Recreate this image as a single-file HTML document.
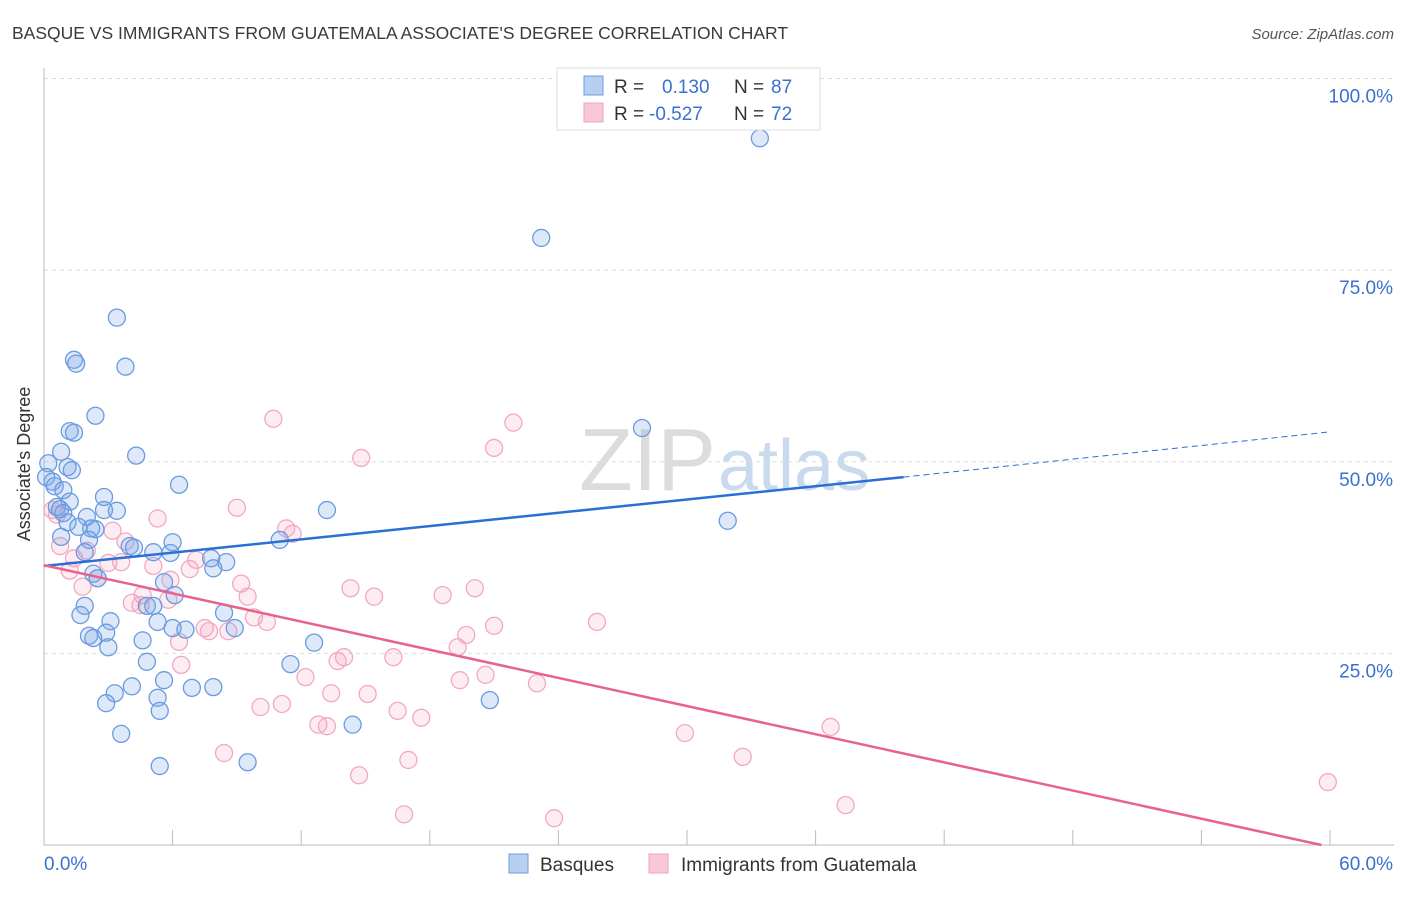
<!DOCTYPE html>
<html><head><meta charset="utf-8"><style>
body{margin:0;background:#fff;font-family:"Liberation Sans",sans-serif;}
svg text{font-family:"Liberation Sans",sans-serif;}
</style></head><body>
<svg id="chart" width="1406" height="892" xmlns="http://www.w3.org/2000/svg">
<text x="12" y="39" font-size="17.5" fill="#3a3a3a">BASQUE VS IMMIGRANTS FROM GUATEMALA ASSOCIATE'S DEGREE CORRELATION CHART</text>
<text x="1394" y="39" font-size="15" fill="#555" font-style="italic" text-anchor="end">Source: ZipAtlas.com</text>
<text x="716" y="490" font-size="88" fill="#dcdcdc" text-anchor="end" font-family="Liberation Serif">ZIP</text>
<text x="718" y="490" font-size="72" fill="#c9d9ee">atlas</text>
<g id="grid"></g><g id="axes"></g><g id="pts"></g><g id="lines"></g>
<g>
<rect x="557" y="68" width="263" height="62" fill="#fff" stroke="#ddd"/>
<rect x="584" y="76" width="19" height="19" fill="#b8d0f0" stroke="#6a9be0"/>
<rect x="584" y="103" width="19" height="19" fill="#f8c8d6" stroke="#f0a0bc"/>
<text x="614" y="93" font-size="19" fill="#333">R = </text><text x="662" y="93" font-size="19" fill="#3a70d0">0.130</text>
<text x="734" y="93" font-size="19" fill="#333">N = </text><text x="771" y="93" font-size="19" fill="#3a70d0">87</text>
<text x="614" y="120" font-size="19" fill="#333">R = </text><text x="649" y="120" font-size="19" fill="#3a70d0">-0.527</text>
<text x="734" y="120" font-size="19" fill="#333">N = </text><text x="771" y="120" font-size="19" fill="#3a70d0">72</text>
</g>
<g>
<rect x="509" y="854" width="19" height="19" fill="#b8d0f0" stroke="#6a9be0"/>
<text x="540" y="871" font-size="19" fill="#333">Basques</text>
<rect x="649" y="854" width="19" height="19" fill="#f8c8d6" stroke="#f0a0bc"/>
<text x="681" y="871" font-size="19" fill="#333">Immigrants from Guatemala</text>
</g>
<text x="22" y="456" font-size="18" fill="#333" transform="rotate(-90 30 456)" text-anchor="middle">Associate's Degree</text>
</svg>
<script>
const yTicks=[25,50,75,100];
const yTickLabels=["25.0%","50.0%","75.0%","100.0%"];
const xTickLabels=["0.0%","60.0%"];
const basqueX=[33.4,23.2,3.4,1.4,1.5,3.8,2.4,27.9,1.2,1.4,0.8,4.3,0.2,1.1,1.3,0.1,0.4,6.3,0.5,0.9,2.8,1.2,0.6,0.75,13.2,2.8,3.4,0.9,2.0,1.1,31.9,1.6,2.4,2.2,0.8,2.1,11.0,6.0,4.0,4.2,1.9,5.1,5.9,7.8,8.5,7.9,2.3,2.5,5.6,6.1,4.8,5.1,1.9,1.7,8.4,5.3,3.1,2.9,6.0,6.6,8.9,2.1,2.3,4.6,3.0,12.6,4.8,11.5,5.6,4.1,6.9,7.9,3.3,5.3,2.9,20.8,5.4,14.4,3.6,5.4,9.5];
const basqueY=[92.2,79.2,68.8,63.3,62.8,62.4,56.0,54.4,54.0,53.8,51.3,50.8,49.8,49.3,48.9,48.0,47.4,47.0,46.8,46.3,45.4,44.8,44.1,43.8,43.7,43.7,43.6,43.3,42.8,42.1,42.3,41.5,41.2,41.3,40.2,39.8,39.8,39.5,39.0,38.8,38.2,38.2,38.1,37.4,36.9,36.1,35.4,34.8,34.3,32.6,31.2,31.2,31.2,30.0,30.3,29.1,29.2,27.7,28.3,28.1,28.3,27.3,27.0,26.7,25.8,26.4,23.9,23.6,21.5,20.7,20.5,20.6,19.8,19.2,18.5,18.9,17.5,15.7,14.5,10.3,10.8];
const guatX=[10.7,21.9,21.0,14.8,9.0,0.6,0.4,11.3,11.6,3.2,5.3,0.75,3.8,2.0,1.4,3.0,3.6,7.1,6.8,5.1,1.2,2.5,5.9,1.8,9.2,20.1,14.3,15.4,18.6,4.6,9.5,4.1,4.5,5.8,9.8,10.4,25.8,7.5,7.7,8.6,21.0,19.7,6.3,19.3,14.0,13.7,16.3,6.4,12.2,20.6,19.4,23.0,13.4,15.1,11.1,10.1,16.5,17.6,12.8,13.2,36.7,29.9,8.4,32.6,17.0,14.7,16.8,23.8,37.4,59.9];
const guatY=[55.6,55.1,51.8,50.5,44.0,43.1,43.7,41.3,40.6,41.0,42.6,39.0,39.6,38.4,37.4,36.8,36.9,37.2,36.0,36.4,35.8,34.8,34.6,33.7,34.1,33.5,33.5,32.4,32.6,32.6,32.4,31.6,31.3,32.0,29.7,29.1,29.1,28.3,27.9,27.9,28.6,27.4,26.5,25.8,24.5,24.0,24.5,23.5,21.9,22.2,21.5,21.1,19.8,19.7,18.4,18.0,17.5,16.6,15.7,15.5,15.4,14.6,12.0,11.5,11.1,9.1,4.0,3.5,5.2,8.2];
const blueTrend=[[0,36.4],[40.1,48.0],[60,53.9]];
const pinkTrend=[[0,36.5],[59.6,0]];
const NS="http://www.w3.org/2000/svg";
const X=v=>44+v*(1330-44)/60;
const Y=v=>845-v*(845-78.5)/100;
function mk(tag,attrs,parent){const e=document.createElementNS(NS,tag);for(const k in attrs)e.setAttribute(k,attrs[k]);document.getElementById(parent).appendChild(e);return e;}
yTicks.forEach((t,i)=>{
 const g=mk('line',{x1:44,x2:1394,y1:Y(t),y2:Y(t),stroke:'#ddd','stroke-dasharray':'4,4'},'grid');
 
 
 const l=mk('text',{x:1393,y:Y(t)+24,'font-size':19,fill:'#3a70d0','text-anchor':'end'},'axes');
 l.textContent=yTickLabels[i];
 
 
});
const ax=mk('line',{x1:44,x2:1394,y1:845,y2:845,stroke:'#bbb'},'axes');


const ay=mk('line',{x1:44,x2:44,y1:68,y2:845,stroke:'#bbb'},'axes');


for(let i=0;i<=10;i++){
 const t=mk('line',{x1:X(i*6),x2:X(i*6),y1:830,y2:845,stroke:'#bbb'},'axes');
 
 
}
const xl0=mk('text',{x:44,y:870,'font-size':19,fill:'#3a70d0'},'axes');xl0.textContent=xTickLabels[0];


const xl1=mk('text',{x:1393,y:870,'font-size':19,fill:'#3a70d0','text-anchor':'end'},'axes');xl1.textContent=xTickLabels[1];


guatX.forEach((v,i)=>{
 const c=mk('circle',{cx:X(v),cy:Y(guatY[i]),r:8.5,fill:'rgba(244,160,190,0.2)',stroke:'#f2a8c2','stroke-width':1.3},'pts');
 
 
});
basqueX.forEach((v,i)=>{
 const c=mk('circle',{cx:X(v),cy:Y(basqueY[i]),r:8.5,fill:'rgba(120,165,230,0.25)',stroke:'#6a9be0','stroke-width':1.3},'pts');
 
 
});
const b1=mk('line',{x1:X(blueTrend[0][0]),y1:Y(blueTrend[0][1]),x2:X(blueTrend[1][0]),y2:Y(blueTrend[1][1]),stroke:'#2a6fd6','stroke-width':2.5},'lines');


const b2=mk('line',{x1:X(blueTrend[1][0]),y1:Y(blueTrend[1][1]),x2:X(blueTrend[2][0]),y2:Y(blueTrend[2][1]),stroke:'#2a6fd6','stroke-width':1,'stroke-dasharray':'6,4'},'lines');


const p1=mk('line',{x1:X(pinkTrend[0][0]),y1:Y(pinkTrend[0][1]),x2:X(pinkTrend[1][0]),y2:Y(pinkTrend[1][1]),stroke:'#e8628f','stroke-width':2.5},'lines');


</script>
</body></html>
